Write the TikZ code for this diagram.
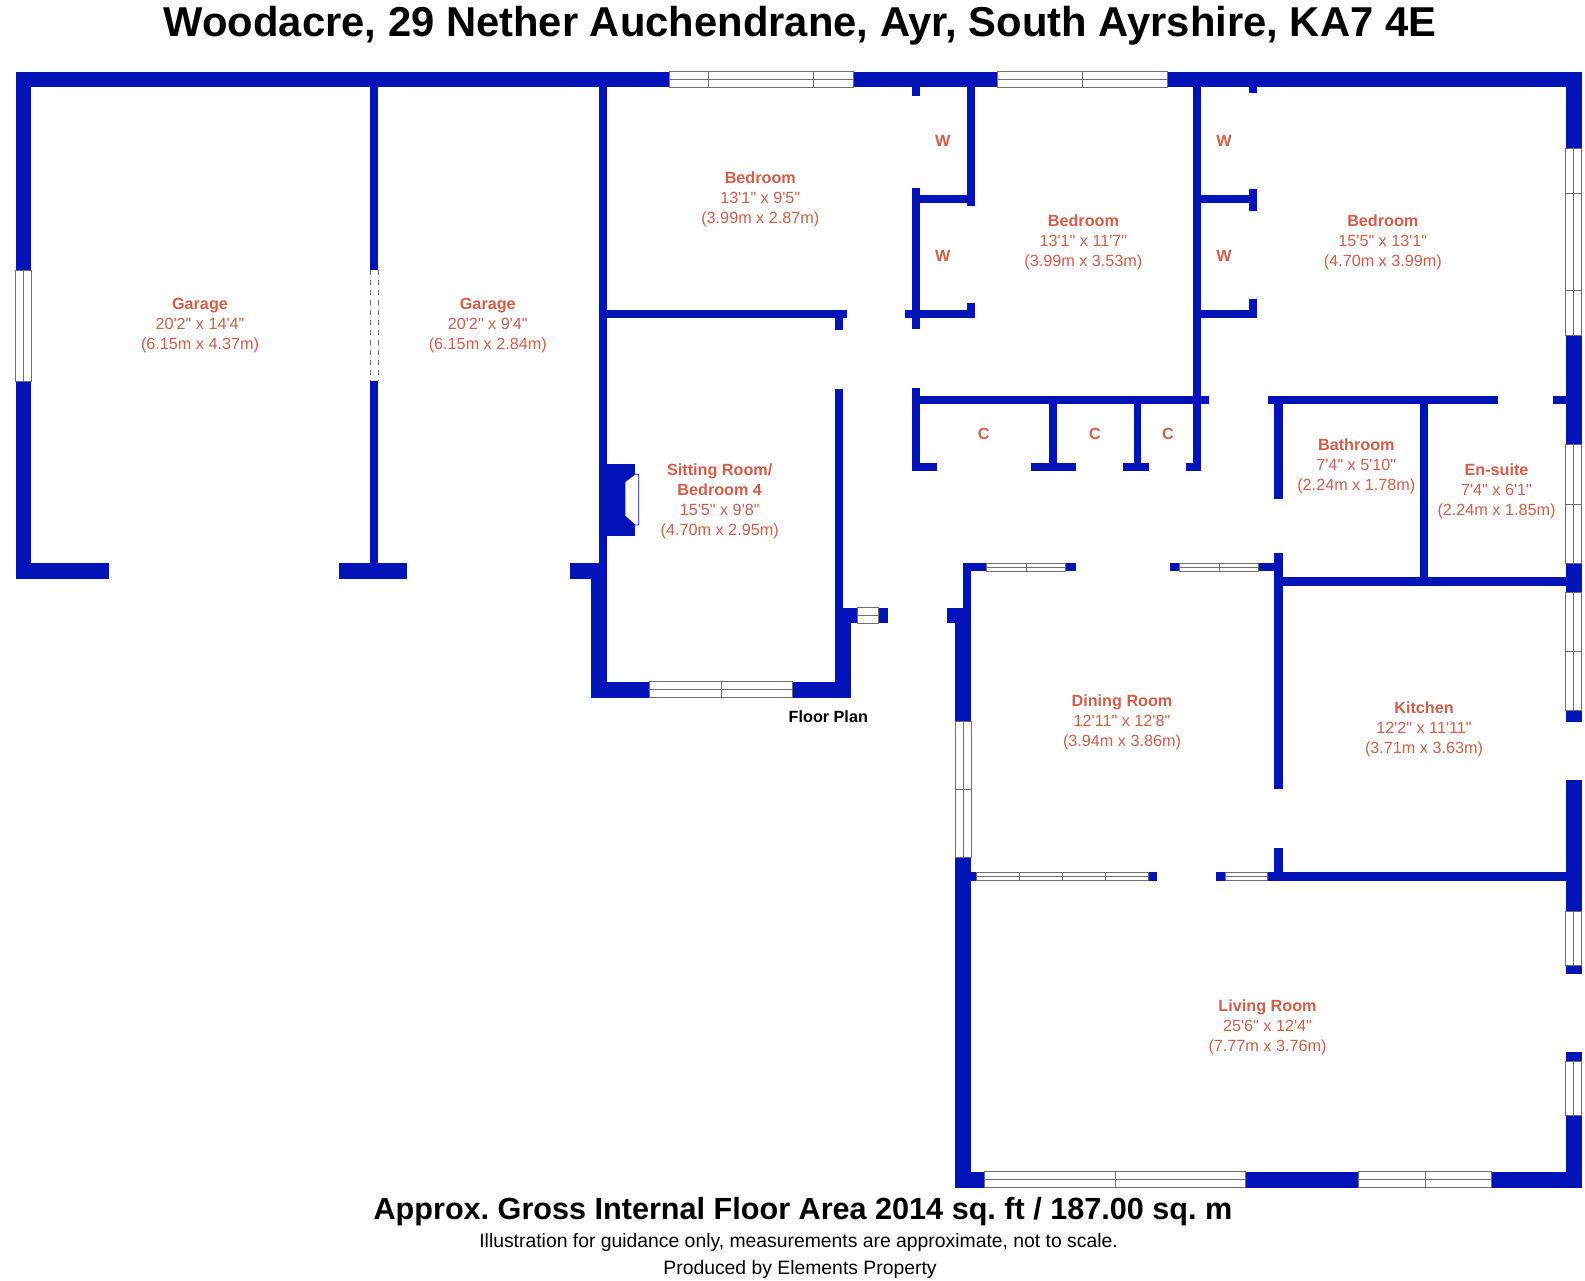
\documentclass[tikz,border=0pt]{standalone}
\usepackage{fontspec}
\newfontfamily\planfont{Liberation Sans}
\definecolor{wallblue}{RGB}{2,20,184}
\definecolor{roomred}{RGB}{208,94,74}
\definecolor{frameline}{RGB}{110,110,110}
\tikzset{
  wall/.style={fill=wallblue},
  glaze/.style={draw=frameline,line width=1pt,fill=white},
  roomlabel/.style={inner sep=0pt,align=center,text=roomred,font=\planfont\fontsize{16.2}{20}\selectfont},
  cupboard/.style={inner sep=0pt,text=roomred,font=\planfont\bfseries\fontsize{16.2}{20}\selectfont},
  blacklabel/.style={inner sep=0pt,text=black}
}
\begin{document}
\frenchspacing
\begin{tikzpicture}[x=1pt,y=-1pt]
\useasboundingbox (0,0) rectangle (1585,1280);
\node[blacklabel,anchor=base,font=\planfont\bfseries\fontsize{41.76}{44}\selectfont] (title) at (800,36) {Woodacre, 29 Nether Auchendrane, Ayr, South Ayrshire, KA7 4E};
\fill[wall] (15.5,71.5) rectangle (669,87.3);
\fill[wall] (853.3,71.5) rectangle (997.3,87.3);
\fill[wall] (1167.1,71.5) rectangle (1581.7,87.3);
\fill[wall] (15.5,71.5) rectangle (31.4,270.4);
\fill[wall] (15.5,381) rectangle (31.4,579.3);
\fill[wall] (15.5,563.2) rectangle (109,579.3);
\fill[wall] (370,87) rectangle (378.4,270.4);
\fill[wall] (370,381) rectangle (378.4,563.2);
\fill[wall] (339,563.2) rectangle (406.5,579.3);
\fill[wall] (598.5,87) rectangle (606.7,563.3);
\fill[wall] (570.2,563.3) rectangle (606.7,579.3);
\fill[wall] (590.7,579) rectangle (606.7,697.7);
\fill[wall] (598.5,463.5) rectangle (635,536);
\fill[wall] (590.7,681.7) rectangle (649,697.7);
\fill[wall] (792.7,681.7) rectangle (850.7,697.7);
\fill[wall] (835,389.3) rectangle (843.3,607.7);
\fill[wall] (835,607.7) rectangle (850.7,697.7);
\fill[wall] (835,607.7) rectangle (857,623.3);
\fill[wall] (878.7,607.7) rectangle (888.3,623.3);
\fill[wall] (606,309.5) rectangle (846.7,318.3);
\fill[wall] (835,309.5) rectangle (843.3,330);
\fill[wall] (911.7,87) rectangle (920,95.7);
\fill[wall] (911.7,187.7) rectangle (920,329.3);
\fill[wall] (966.7,87) rectangle (975,206);
\fill[wall] (920,194.7) rectangle (975,202.7);
\fill[wall] (905,310) rectangle (975,318.3);
\fill[wall] (966.7,303.3) rectangle (975,318.3);
\fill[wall] (911.7,388) rectangle (920,471);
\fill[wall] (911.7,396.3) rectangle (1209.2,404.3);
\fill[wall] (911.7,462.7) rectangle (937,471);
\fill[wall] (1048.8,404) rectangle (1056.7,471);
\fill[wall] (1031.3,462.7) rectangle (1076.1,471);
\fill[wall] (1133.5,404) rectangle (1141.4,471);
\fill[wall] (1123.1,462.7) rectangle (1149,471);
\fill[wall] (1193.3,87) rectangle (1201.4,471);
\fill[wall] (1186.4,462.7) rectangle (1201.4,471);
\fill[wall] (1248.6,87) rectangle (1257,92.7);
\fill[wall] (1201,194.7) rectangle (1257,202.7);
\fill[wall] (1248.6,189.3) rectangle (1257,211);
\fill[wall] (1201,309.5) rectangle (1257,318.3);
\fill[wall] (1248.6,298.7) rectangle (1257,318.3);
\fill[wall] (1267.8,396.3) rectangle (1498.2,404.3);
\fill[wall] (1553.3,396.3) rectangle (1566,404.3);
\fill[wall] (1274.4,404) rectangle (1282.8,498.7);
\fill[wall] (1419.8,404) rectangle (1428,577.5);
\fill[wall] (1274.4,553.3) rectangle (1282.8,789.3);
\fill[wall] (1274.4,577.3) rectangle (1566,585.7);
\fill[wall] (1565.7,71.5) rectangle (1581.7,148.7);
\fill[wall] (1565.7,335) rectangle (1581.7,444.7);
\fill[wall] (1565.7,563.3) rectangle (1581.7,592);
\fill[wall] (1565.7,710.7) rectangle (1581.7,721.7);
\fill[wall] (1565.7,780.3) rectangle (1581.7,911.7);
\fill[wall] (1565.7,965) rectangle (1581.7,974);
\fill[wall] (1565.7,1052.3) rectangle (1581.7,1061.7);
\fill[wall] (1565.7,1115) rectangle (1581.7,1187.7);
\fill[wall] (963,563.2) rectangle (986.5,571.4);
\fill[wall] (1065.9,563.2) rectangle (1075.5,571.4);
\fill[wall] (1169.9,563.2) rectangle (1179.7,571.4);
\fill[wall] (1258.7,563.2) rectangle (1275,571.4);
\fill[wall] (963,563.2) rectangle (971.3,608);
\fill[wall] (946.7,607.7) rectangle (971.3,623.3);
\fill[wall] (955,607.7) rectangle (971.3,721.7);
\fill[wall] (955,857.7) rectangle (971.3,1187.7);
\fill[wall] (955,872.3) rectangle (976.9,880.7);
\fill[wall] (1148.1,872.3) rectangle (1156.8,880.7);
\fill[wall] (1215.6,872.3) rectangle (1225.9,880.7);
\fill[wall] (1267.9,872.3) rectangle (1566,880.7);
\fill[wall] (1274.4,848.3) rectangle (1282.8,880.7);
\fill[wall] (955,1171.7) rectangle (984.5,1187.7);
\fill[wall] (1245.2,1171.7) rectangle (1358.6,1187.7);
\fill[wall] (1491.2,1171.7) rectangle (1581.7,1187.7);
\draw[glaze] (669,71.7) rectangle (853.3,87.3) (669,79.5) -- (853.3,79.5) (708.7,71.7) -- (708.7,87.3) (813.3,71.7) -- (813.3,87.3);
\draw[glaze] (997.3,71.7) rectangle (1167.1,87.3) (997.3,79.5) -- (1167.1,79.5) (1082.2,71.7) -- (1082.2,87.3);
\draw[glaze] (15.5,270.4) rectangle (31.4,381) (23.4,270.4) -- (23.4,381);
\draw[frameline,line width=1pt,dash pattern=on 5pt off 5pt] (370,270.4) -- (370,381) (378.4,270.4) -- (378.4,381);
\draw[glaze] (1565.7,148.7) rectangle (1581.7,335) (1573.7,148.7) -- (1573.7,335) (1565.7,193.3) -- (1581.7,193.3) (1565.7,290) -- (1581.7,290);
\draw[glaze] (1565.7,444.7) rectangle (1581.7,563.3) (1573.7,444.7) -- (1573.7,563.3) (1565.7,504) -- (1581.7,504);
\draw[glaze] (1565.7,592) rectangle (1581.7,710.7) (1573.7,592) -- (1573.7,710.7) (1565.7,651.7) -- (1581.7,651.7);
\draw[glaze] (1565.7,911.7) rectangle (1581.7,965) (1573.7,911.7) -- (1573.7,965);
\draw[glaze] (1565.7,1061.7) rectangle (1581.7,1115) (1573.7,1061.7) -- (1573.7,1115);
\draw[glaze] (649,681.7) rectangle (792.7,697.7) (649,689.7) -- (792.7,689.7) (721,681.7) -- (721,697.7);
\draw[glaze] (857,607.7) rectangle (878.7,623.3) (857,615.5) -- (878.7,615.5);
\draw[glaze] (986.5,563.2) rectangle (1065.9,571.4) (986.5,567.3) -- (1065.9,567.3) (1026.1,563.2) -- (1026.1,571.4);
\draw[glaze] (1179.7,563.2) rectangle (1258.7,571.4) (1179.7,567.3) -- (1258.7,567.3) (1219.3,563.2) -- (1219.3,571.4);
\draw[glaze] (955,721.7) rectangle (971.3,857.7) (963.1,721.7) -- (963.1,857.7) (955,789.3) -- (971.3,789.3);
\draw[glaze] (976.9,872.3) rectangle (1148.1,880.7) (976.9,876.5) -- (1148.1,876.5) (1019.4,872.3) -- (1019.4,880.7) (1062.6,872.3) -- (1062.6,880.7) (1105.5,872.3) -- (1105.5,880.7);
\draw[glaze] (1225.9,872.3) rectangle (1267.9,880.7) (1225.9,876.5) -- (1267.9,876.5);
\draw[glaze] (984.5,1171.7) rectangle (1245.2,1187.7) (984.5,1179.7) -- (1245.2,1179.7) (1115.2,1171.7) -- (1115.2,1187.7);
\draw[glaze] (1358.6,1171.7) rectangle (1491.2,1187.7) (1358.6,1179.7) -- (1491.2,1179.7) (1425,1171.7) -- (1425,1187.7);
\draw[wallblue,line width=0.8pt,fill=white] (635,474.3) -- (625,481.7) -- (625,516) -- (635,525) -- (638.7,525) -- (638.7,474.3) -- cycle;
\node[roomlabel] (garagea) at (200,326) {\textbf{Garage}\\20'2" x 14'4"\\(6.15m x 4.37m)};
\node[roomlabel] (garageb) at (487.8,326) {\textbf{Garage}\\20'2" x 9'4"\\(6.15m x 2.84m)};
\node[roomlabel] (bedrooma) at (760.3,199) {\textbf{Bedroom}\\13'1" x 9'5"\\(3.99m x 2.87m)};
\node[roomlabel] (bedroomb) at (1083.4,242.7) {\textbf{Bedroom}\\13'1" x 11'7"\\(3.99m x 3.53m)};
\node[roomlabel] (bedroomc) at (1382.8,242.7) {\textbf{Bedroom}\\15'5" x 13'1"\\(4.70m x 3.99m)};
\node[roomlabel] (sitting) at (719.7,501) {\textbf{Sitting Room/}\\\textbf{Bedroom 4}\\15'5" x 9'8"\\(4.70m x 2.95m)};
\node[roomlabel] (bathroom) at (1356.3,466) {\textbf{Bathroom}\\7'4" x 5'10"\\(2.24m x 1.78m)};
\node[roomlabel] (ensuite) at (1496.5,491) {\textbf{En-suite}\\7'4" x 6'1"\\(2.24m x 1.85m)};
\node[roomlabel] (dining) at (1122,722.7) {\textbf{Dining Room}\\12'11" x 12'8"\\(3.94m x 3.86m)};
\node[roomlabel] (kitchen) at (1424,729.7) {\textbf{Kitchen}\\12'2" x 11'11"\\(3.71m x 3.63m)};
\node[roomlabel] (living) at (1267.5,1027) {\textbf{Living Room}\\25'6" x 12'4"\\(7.77m x 3.76m)};
\node[cupboard] (wa) at (942.7,141) {W};
\node[cupboard] (wb) at (942.7,256) {W};
\node[cupboard] (wc) at (1224,141) {W};
\node[cupboard] (wd) at (1224,256) {W};
\node[cupboard] (ca) at (983.7,434.3) {C};
\node[cupboard] (cb) at (1095,434.3) {C};
\node[cupboard] (cc) at (1168,434.3) {C};
\node[blacklabel,font=\planfont\bfseries\fontsize{16.2}{20}\selectfont] (floorplan) at (828.3,716.7) {Floor Plan};
\node[blacklabel,font=\planfont\bfseries\fontsize{30.6}{34}\selectfont] (area) at (803,1212) {Approx. Gross Internal Floor Area 2014 sq. ft / 187.00 sq. m};
\node[blacklabel,font=\planfont\fontsize{19.35}{22}\selectfont] (guidance) at (798.6,1242.7) {Illustration for guidance only, measurements are approximate, not to scale.};
\node[blacklabel,font=\planfont\fontsize{19.35}{22}\selectfont] (producer) at (800,1269) {Produced by Elements Property};
\end{tikzpicture}
\end{document}
